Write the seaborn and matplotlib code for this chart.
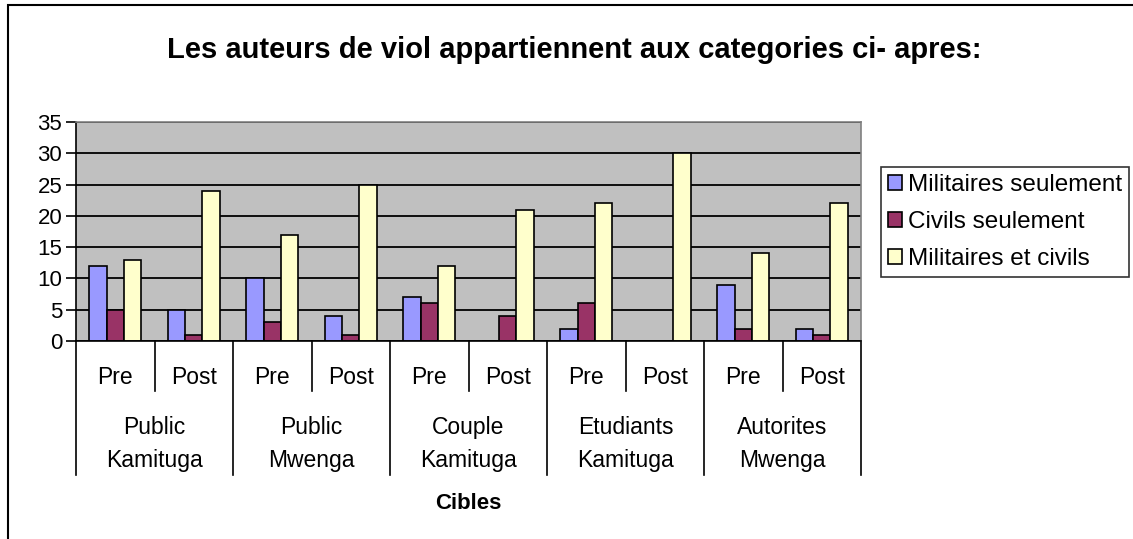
import seaborn as sns
import matplotlib.pyplot as plt
import matplotlib.transforms as mtransforms
from matplotlib.lines import Line2D
from matplotlib.patches import Rectangle
import pandas as pd

# data
groups = ['Public\nKamituga', 'Public\nMwenga', 'Couple\nKamituga', 'Etudiants\nKamituga', 'Autorites\nMwenga']
periods = ['Pre', 'Post']
series = ['Militaires seulement', 'Civils seulement', 'Militaires et civils']
militaires = [12, 5, 10, 4, 7, 0, 2, 0, 9, 2]
civils = [5, 1, 3, 1, 6, 4, 6, 0, 2, 1]
mixtes = [13, 24, 17, 25, 12, 21, 22, 30, 14, 22]
colors = ['#9999FF', '#993366', '#FFFFCC']

slots = [g.replace('\n', ' ') + ' ' + p for g in groups for p in periods]
rows = []
for vals, name in zip([militaires, civils, mixtes], series):
    for slot, v in zip(slots, vals):
        rows.append({'slot': slot, 'serie': name, 'valeur': v})
df = pd.DataFrame(rows)

plt.rcParams['font.family'] = ['Liberation Sans', 'DejaVu Sans']
fig = plt.figure(figsize=(11.33, 5.39), dpi=100)
ax = fig.add_axes([0.0671, 0.3673, 0.6929, 0.4063])

sns.barplot(data=df, x='slot', y='valeur', hue='serie', order=slots, hue_order=series,
            palette=colors, width=0.66, edgecolor='black', linewidth=1.2, ax=ax,
            saturation=1, legend=True)

ax.set_facecolor('#C0C0C0')
ax.set_ylim(0, 35)
ax.set_xlim(-0.5, len(slots) - 0.5)
ax.set_yticks(range(0, 36, 5))
ax.yaxis.grid(True, color='black', linewidth=1.3)
ax.set_axisbelow(True)
ax.tick_params(axis='y', labelsize=16, length=7, width=1.2, color='black', pad=3)
ax.tick_params(axis='x', length=0)
ax.set_xticklabels([])
ax.set_xlabel('')
ax.set_ylabel('')
for s in ['left', 'bottom']:
    ax.spines[s].set_color('black')
    ax.spines[s].set_linewidth(1.2)
for s in ['top', 'right']:
    ax.spines[s].set_color('#808080')
    ax.spines[s].set_linewidth(1.2)

# category labels under the axis
trans = mtransforms.blended_transform_factory(ax.transData, ax.transAxes)
for i, slot in enumerate(slots):
    ax.text(i, -0.165, periods[i % 2], transform=trans, ha='center', va='center', fontsize=16.5)
for j, g in enumerate(groups):
    ax.text(2 * j + 0.5, -0.47, g, transform=trans, ha='center', va='center',
            fontsize=16.5, linespacing=1.6)
for k in range(len(slots) + 1):
    bottom = -0.61 if k % 2 == 0 else -0.23
    ax.add_line(Line2D([k - 0.5, k - 0.5], [0, bottom], transform=trans,
                       color='black', linewidth=1.2, clip_on=False))

ax.text(0.5, -0.74, 'Cibles', transform=ax.transAxes, ha='center', va='center',
        fontsize=16, fontweight='bold')
fig.text(0.507, 0.907, 'Les auteurs de viol appartiennent aux categories ci- apres:',
         ha='center', va='center', fontsize=21, fontweight='bold')

leg = ax.legend(loc='upper left', bbox_to_anchor=(0.7776, 0.691), bbox_transform=fig.transFigure,
                fontsize=17.5, frameon=True, fancybox=False, borderaxespad=0,
                handlelength=0.55, handleheight=0.55, handletextpad=0.25, labelspacing=0.62,
                borderpad=0.3)
leg.get_frame().set_edgecolor('black')
leg.get_frame().set_linewidth(1.2)
for h in leg.legend_handles:
    h.set_edgecolor('black')
    h.set_linewidth(1.2)

# chart border: only top and left edges fall inside the picture
fig.add_artist(Rectangle((0.007, -0.1), 1.1, 1.0907, transform=fig.transFigure,
                         fill=False, edgecolor='black', linewidth=1.5))

plt.savefig('out.png', dpi=100)
